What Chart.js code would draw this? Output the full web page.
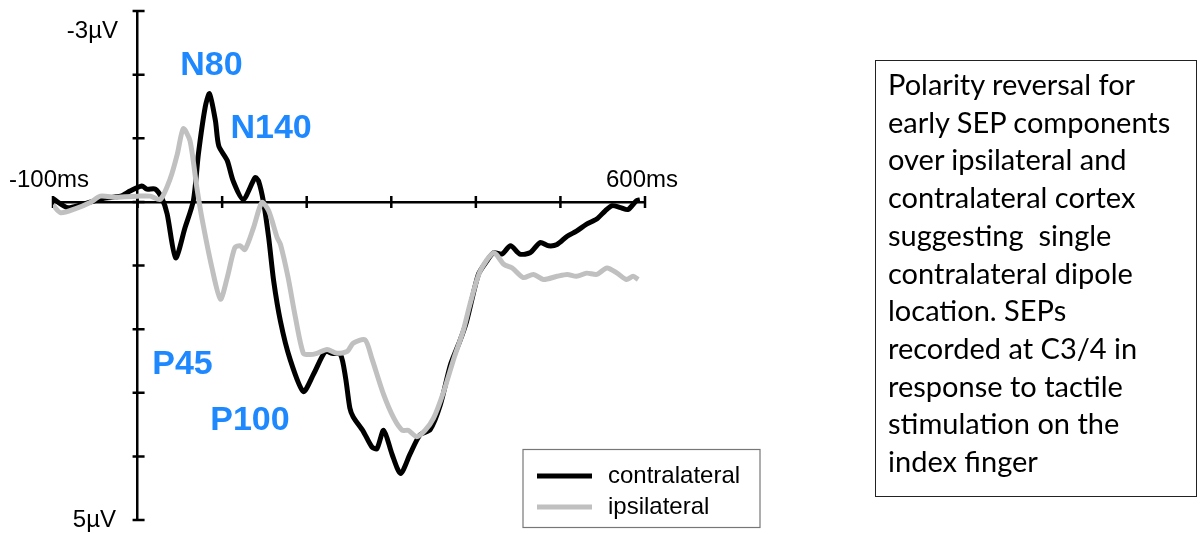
<!DOCTYPE html>
<html>
<head>
<meta charset="utf-8">
<script src="https://cdn.jsdelivr.net/npm/chart.js@4.4.1/dist/chart.umd.min.js"></script>
<style>
    html, body { margin: 0; padding: 0; background: #fff; }
    #wrap { position: relative; width: 1200px; height: 534px; overflow: hidden; }
    #sepChart { position: absolute; left: 0; top: 0; }
    #note {
        position: absolute;
        left: 875px;
        top: 60px;
        width: 322px;
        height: 437px;
        box-sizing: border-box;
        border: 1.5px solid #222;
        padding: 4px 0 0 12px;
        font-family: Lato, "Open Sans", sans-serif;
        font-size: 29px;
        line-height: 37.7px;
        color: #000;
        white-space: nowrap;
    }
</style>
</head>
<body>
<div id="wrap">
    <canvas id="sepChart" width="1200" height="534"></canvas>
    <div id="note">Polarity reversal for<br>early SEP components<br>over ipsilateral and<br>contralateral cortex<br>suggesting&nbsp; single<br>contralateral dipole<br>location. SEPs<br>recorded at C3/4 in<br>response to tactile<br>stimulation on the<br>index finger</div>
</div>
<script>
// time axis (ms) and amplitude (µV, negative plotted up)
const xTicks = [-100, 0, 100, 200, 300, 400, 500, 600];
const yTicks = [-3, -2, -1, 0, 1, 2, 3, 4, 5];

const seriesNames = ["contralateral", "ipsilateral"];

const contraTime = [-100, -83, -68, -50, -38, -20, -9, 5, 11, 21,
    29, 35, 45, 56, 66, 72, 80, 85, 92, 96,
    106, 113, 125, 139, 143, 149, 155, 161, 169, 180,
    196, 208, 222, 230, 240, 246, 251, 255, 267, 277,
    283, 291, 301, 311, 322, 334, 346, 358, 370, 381,
    389, 403, 413, 421, 431, 441, 452, 464, 476, 486,
    496, 508, 519, 531, 543, 553, 561, 571, 580, 590, 594];
const contraAmp = [-0.05, 0.09, 0.05, -0.02, -0.06, -0.09, -0.17, -0.25, -0.2, -0.2,
    -0.05, 0.19, 0.88, 0.41, -0.02, -0.76, -1.49, -1.70, -1.28, -0.88,
    -0.65, -0.33, -0.04, -0.38, -0.33, 0.01, 0.56, 1.25, 1.88, 2.46,
    2.98, 2.71, 2.35, 2.38, 2.40, 2.77, 3.24, 3.38, 3.61, 3.85,
    3.88, 3.59, 3.97, 4.27, 3.97, 3.66, 3.58, 3.19, 2.56, 2.19,
    1.88, 1.14, 0.93, 0.80, 0.82, 0.69, 0.82, 0.80, 0.64, 0.69,
    0.67, 0.54, 0.46, 0.35, 0.27, 0.14, 0.06, 0.09, 0.12, -0.02, -0.03];

const ipsiTime = [-100, -91, -74, -56, -44, -26, -15, 0, 15, 27,
    39, 47, 54, 62, 70, 76, 88, 98, 106, 115,
    121, 127, 137, 147, 155, 165, 169, 178, 186, 196,
    204, 212, 224, 236, 248, 255, 269, 277, 291, 303,
    313, 320, 330, 340, 350, 362, 374, 385, 393, 405,
    421, 433, 443, 456, 468, 480, 496, 508, 519, 531,
    543, 555, 567, 578, 586, 592];
const ipsiAmp = [0.05, 0.17, 0.11, 0.01, -0.09, -0.07, -0.08, -0.09, -0.09, -0.04,
    -0.38, -0.75, -1.15, -0.96, -0.23, 0.25, 1.04, 1.53, 1.19, 0.72,
    0.69, 0.75, 0.41, 0.01, 0.14, 0.56, 0.67, 1.19, 1.77, 2.38,
    2.40, 2.38, 2.32, 2.38, 2.35, 2.22, 2.17, 2.46, 3.03, 3.40,
    3.59, 3.59, 3.69, 3.59, 3.40, 2.98, 2.46, 2.03, 1.61, 1.09,
    0.80, 0.98, 1.04, 1.19, 1.14, 1.22, 1.17, 1.14, 1.17, 1.12,
    1.14, 1.04, 1.12, 1.22, 1.17, 1.22];

const componentLabels = ["N80", "N140", "P45", "P100"];

const BLUE = "#1e88ff";
const GREY = "#c0c0c0";

function toPoints(times, amps) {
    return times.map((t, i) => ({ x: t, y: amps[i] }));
}

const sepDecor = {
    id: "sepDecor",
    beforeDatasetsDraw(chart) {
        const { ctx, scales: { x, y } } = chart;
        const x0 = x.getPixelForValue(0);
        const y0 = y.getPixelForValue(0);
        ctx.save();
        ctx.strokeStyle = "#000";
        ctx.lineWidth = 2.5;
        ctx.beginPath();
        xTicks.forEach(v => {
            const px = x.getPixelForValue(v);
            ctx.moveTo(px, y0 - 6);
            ctx.lineTo(px, y0 + 6);
        });
        yTicks.forEach(v => {
            const py = y.getPixelForValue(v);
            ctx.moveTo(x0 - 5, py);
            ctx.lineTo(x0 + 7, py);
        });
        ctx.stroke();
        ctx.restore();
    },
    afterDraw(chart) {
        const { ctx, scales: { x, y } } = chart;
        ctx.save();

        // axis end labels
        ctx.fillStyle = "#000";
        ctx.font = "24px 'Liberation Sans', Arial, sans-serif";
        ctx.textBaseline = "alphabetic";
        ctx.textAlign = "right";
        ctx.fillText("-3\u00b5V", 118, 38);
        ctx.fillText("5\u00b5V", 116, 527);
        ctx.textAlign = "left";
        ctx.fillText("-100ms", 9, 187);
        ctx.fillText("600ms", 606, 187);

        // component labels
        ctx.fillStyle = BLUE;
        ctx.font = "bold 34px 'Liberation Sans', Arial, sans-serif";
        const spots = [[50.5, -1.99], [109.8, -1.01], [17.4, 2.71], [85.9, 3.58]];
        componentLabels.forEach((name, i) => {
            ctx.fillText(name, x.getPixelForValue(spots[i][0]), y.getPixelForValue(spots[i][1]));
        });

        // legend box
        ctx.strokeStyle = "#777";
        ctx.lineWidth = 1.2;
        ctx.strokeRect(523, 449.5, 237, 78);
        const colors = [chart.data.datasets[0].borderColor, chart.data.datasets[1].borderColor];
        ctx.font = "24px 'Liberation Sans', Arial, sans-serif";
        ctx.textBaseline = "middle";
        seriesNames.forEach((name, i) => {
            const ly = 476 + i * 31;
            ctx.strokeStyle = colors[i];
            ctx.lineWidth = 5;
            ctx.beginPath();
            ctx.moveTo(537, ly);
            ctx.lineTo(592, ly);
            ctx.stroke();
            ctx.fillStyle = "#000";
            ctx.fillText(name, 608, ly);
        });
        ctx.restore();
    }
};

new Chart(document.getElementById("sepChart"), {
    type: "line",
    data: {
        datasets: [{
            label: seriesNames[0],
            data: toPoints(contraTime, contraAmp),
            borderColor: "#000",
            borderWidth: 5,
            pointRadius: 0,
            tension: 0.25,
            order: 1
        }, {
            label: seriesNames[1],
            data: toPoints(ipsiTime, ipsiAmp),
            borderColor: GREY,
            borderWidth: 5,
            pointRadius: 0,
            tension: 0.25,
            order: 0
        }]
    },
    options: {
        responsive: false,
        animation: false,
        layout: { padding: { left: 53, top: 11, right: 555, bottom: 14 } },
        plugins: {
            legend: { display: false },
            tooltip: { enabled: false }
        },
        scales: {
            x: {
                type: "linear",
                min: -100,
                max: 600,
                position: { y: 0 },
                ticks: { display: false },
                grid: { display: false },
                border: { display: true, color: "#000", width: 2.5 },
                afterFit: s => { s.height = 0; }
            },
            y: {
                type: "linear",
                min: -3,
                max: 5,
                reverse: true,
                position: { x: 0 },
                ticks: { display: false },
                grid: { display: false },
                border: { display: true, color: "#000", width: 2.5 },
                afterFit: s => { s.width = 0; }
            }
        }
    },
    plugins: [sepDecor]
});
</script>
</body>
</html>
